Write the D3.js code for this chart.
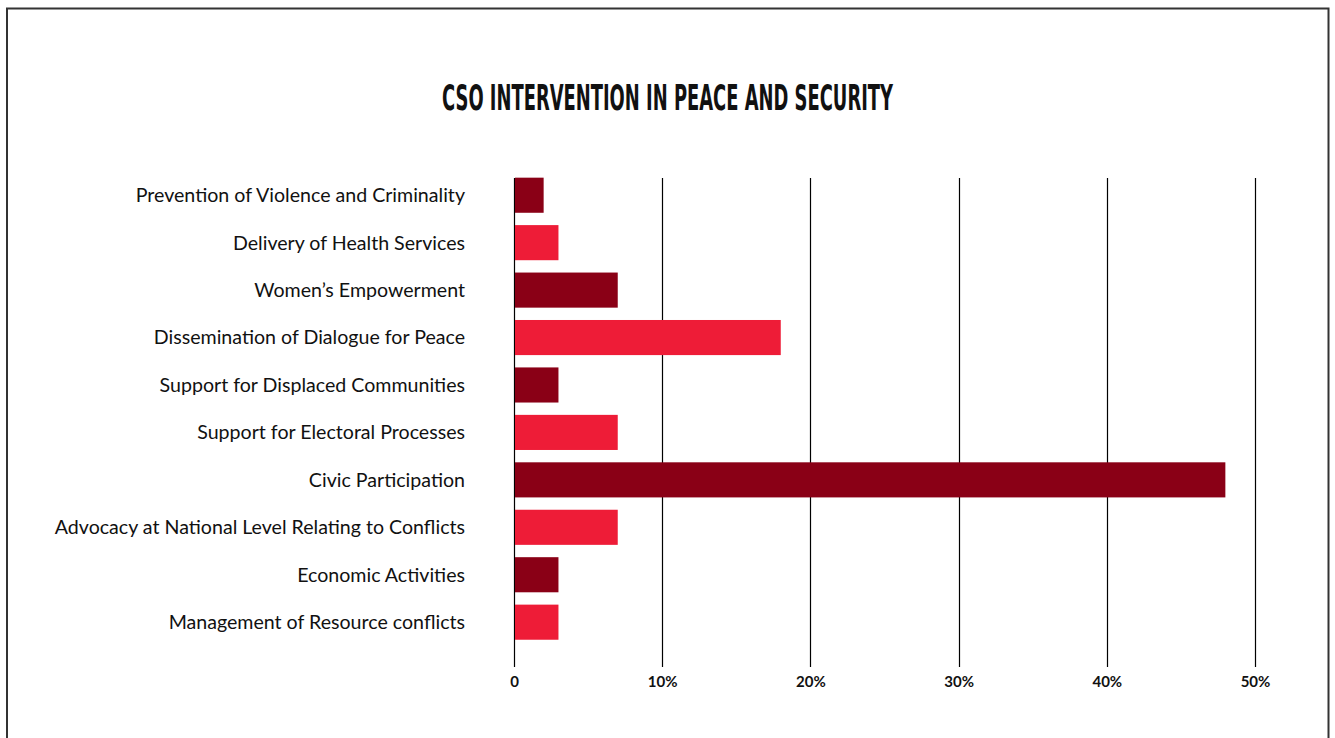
<!DOCTYPE html>
<html>
<head>
<meta charset="utf-8">
<script src="https://cdn.jsdelivr.net/npm/d3@7/dist/d3.min.js"></script>
<style>
  html, body { margin: 0; padding: 0; background: #fff; }
  svg { display: block; }
</style>
</head>
<body>
<svg id="chart" width="1335" height="738"></svg>
<script>
// Areas of CSO intervention, top to bottom
const categories = [
  "Prevention of Violence and Criminality",
  "Delivery of Health Services",
  "Women\u2019s Empowerment",
  "Dissemination of Dialogue for Peace",
  "Support for Displaced Communities",
  "Support for Electoral Processes",
  "Civic Participation",
  "Advocacy at National Level Relating to Conflicts",
  "Economic Activities",
  "Management of Resource conflicts"
];
// Share of CSOs (%)
const shares = [2, 3, 7, 18, 3, 7, 48, 7, 3, 3];
const tickValues = [0, 10, 20, 30, 40, 50];
const tickLabels = ["0", "10%", "20%", "30%", "40%", "50%"];
const palette = ["#8a0016", "#ee1c37"];

const data = categories.map((c, i) => ({ category: c, value: shares[i] }));

const svg = d3.select("#chart");

// outer frame
svg.append("rect")
  .attr("x", 7).attr("y", 8.5)
  .attr("width", 1321.5).attr("height", 740)
  .attr("fill", "none")
  .attr("stroke", "#333")
  .attr("stroke-width", 2);

// title
svg.append("text")
  .attr("x", 442).attr("y", 110)
  .attr("textLength", 451)
  .attr("lengthAdjust", "spacingAndGlyphs")
  .attr("font-family", "'Liberation Sans Narrow', 'DejaVu Sans Condensed', 'Liberation Sans', sans-serif")
  .attr("font-weight", "bold")
  .attr("font-size", 35)
  .attr("fill", "#111")
  .text("CSO INTERVENTION IN PEACE AND SECURITY");

const x = d3.scaleLinear().domain([0, 50]).range([514, 1255]);
const y = d3.scaleBand()
  .domain(categories)
  .range([171.5, 645.9])
  .paddingInner(0.26)
  .paddingOuter(0.13);

// vertical gridlines with ticks running down to the labels
const grid = svg.append("g");
grid.selectAll("line")
  .data(tickValues)
  .join("line")
  .attr("x1", d => Math.round(x(d)) + 0.5)
  .attr("x2", d => Math.round(x(d)) + 0.5)
  .attr("y1", 178)
  .attr("y2", 667)
  .attr("stroke", "#000")
  .attr("stroke-width", 1.2);

// x axis labels
const xAxis = d3.axisBottom(x)
  .tickValues(tickValues)
  .tickFormat((d, i) => tickLabels[i])
  .tickSize(0)
  .tickPadding(0);
const gx = svg.append("g")
  .attr("transform", "translate(0,687)")
  .call(xAxis);
gx.select(".domain").remove();
gx.selectAll("text")
  .attr("dy", 0)
  .attr("font-family", "Lato, 'Open Sans', sans-serif")
  .attr("font-weight", "bold")
  .attr("font-size", 15)
  .attr("fill", "#111");

// bars
svg.append("g").selectAll("rect")
  .data(data)
  .join("rect")
  .attr("x", x(0) + 1)
  .attr("y", d => y(d.category))
  .attr("width", d => x(d.value) - x(0) - 1)
  .attr("height", y.bandwidth())
  .attr("fill", (d, i) => palette[i % 2]);

// category labels
const yAxis = d3.axisLeft(y).tickSize(0).tickPadding(0);
const gy = svg.append("g")
  .attr("transform", "translate(465,0)")
  .call(yAxis);
gy.select(".domain").remove();
gy.selectAll("text")
  .attr("dy", "0.35em")
  .attr("font-family", "Lato, 'Open Sans', sans-serif")
  .attr("font-weight", 400)
  .attr("font-size", 19.6)
  .attr("fill", "#111");
</script>
</body>
</html>
